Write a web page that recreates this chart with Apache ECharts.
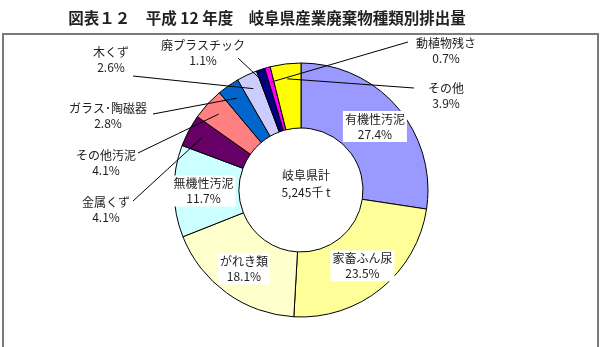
<!DOCTYPE html>
<html><head><meta charset="utf-8">
<script src="https://cdn.jsdelivr.net/npm/echarts@6/dist/echarts.min.js"></script>
<style>html,body{margin:0;padding:0;background:#fff}#c{width:601px;height:347px}</style>
</head><body><div id="c"></div>
<script>
const titleText = '図表１２　平成 12 年度　岐阜県産業廃棄物種類別排出量';
const centerText = '岐阜県計\n5,245千 t';
const categories = ['有機性汚泥','家畜ふん尿','がれき類','無機性汚泥','金属くず','その他汚泥','ガラス･陶磁器','木くず','廃プラスチック','動植物残さ','その他'];
const shares = [27.4, 23.5, 18.1, 11.7, 4.1, 4.1, 2.8, 2.6, 1.1, 0.7, 3.9];
const colors = ['#9999FF','#FFFF99','#FFFFCC','#CCFFFF','#660066','#FF8080','#0066CC','#CCCCFF','#000080','#FF00FF','#FFFF00'];
const insideLabels = ['有機性汚泥','家畜ふん尿','がれき類','無機性汚泥'];

// label placement for outside labels: [textCenterX, textCenterY, lineEndX, lineEndY]
const outsidePlacement = {
  '金属くず': [106, 210, 133, 201],
  'その他汚泥': [106, 163, 138, 153],
  'ガラス･陶磁器': [108, 116, 153, 114],
  '木くず': [111, 60, 133, 76],
  '廃プラスチック': [203, 53, 238, 58],
  '動植物残さ': [446, 51, 408, 42],
  'その他': [446, 96, 414, 88]
};

const FONT = '"Noto Sans CJK JP", "Noto Sans", sans-serif';
const chart = echarts.init(document.getElementById('c'), null, {renderer: 'canvas'});

const mainData = categories.map((n, i) => ({
  name: n, value: shares[i],
  itemStyle: {color: colors[i]},
  label: {show: insideLabels.includes(n)}
}));
const overlayData = categories.map((n, i) => ({
  name: n, value: shares[i],
  label: {show: !insideLabels.includes(n)},
  labelLine: {show: !insideLabels.includes(n)}
}));

chart.setOption({
  animation: false,
  title: [{
    text: titleText, left: 262, top: 5, textAlign: 'center',
    textStyle: {fontFamily: FONT, fontSize: 15.5, fontWeight: 'bold', color: '#222'}
  }, {
    text: centerText, left: 301, top: 162, textAlign: 'center',
    textStyle: {fontFamily: FONT, fontSize: 12, fontWeight: 'normal', color: '#222', lineHeight: 17}
  }],
  graphic: [{
    type: 'rect', silent: true, z: -1,
    shape: {x: 3, y: 34, width: 595, height: 340},
    style: {fill: 'none', stroke: '#7a7a7a', lineWidth: 2}
  }],
  series: [{
    type: 'pie', center: [301, 190], radius: [62, 127],
    startAngle: 90, clockwise: true, avoidLabelOverlap: false,
    itemStyle: {borderColor: '#000', borderWidth: 1},
    label: {
      position: 'inside', formatter: '{b}\n{c}%',
      fontFamily: FONT, fontSize: 12, color: '#222', lineHeight: 15,
      backgroundColor: '#fff', padding: [1, 2, 0, 2]
    },
    labelLine: {show: false},
    emphasis: {disabled: true},
    data: mainData
  }, {
    type: 'pie', center: [301, 190], radius: [62, 112],
    startAngle: 90, clockwise: true, avoidLabelOverlap: false,
    silent: true, z: 3,
    itemStyle: {color: 'rgba(0,0,0,0)', borderWidth: 0},
    label: {
      position: 'outside', formatter: '{b}\n{c}%',
      fontFamily: FONT, fontSize: 12, color: '#222', lineHeight: 15
    },
    labelLine: {lineStyle: {color: '#000', width: 1}, length: 10, length2: 10},
    emphasis: {disabled: true},
    labelLayout: function (p) {
      const name = categories[p.dataIndex];
      const pl = outsidePlacement[name];
      if (!pl) return {};
      const start = p.labelLinePoints ? p.labelLinePoints[0] : [pl[2], pl[3]];
      const end = [pl[2], pl[3]];
      const mid = [(start[0] + end[0]) / 2, (start[1] + end[1]) / 2];
      return {x: pl[0], y: pl[1], align: 'center', verticalAlign: 'middle', labelLinePoints: [start, mid, end]};
    },
    data: overlayData
  }]
});
</script></body></html>
